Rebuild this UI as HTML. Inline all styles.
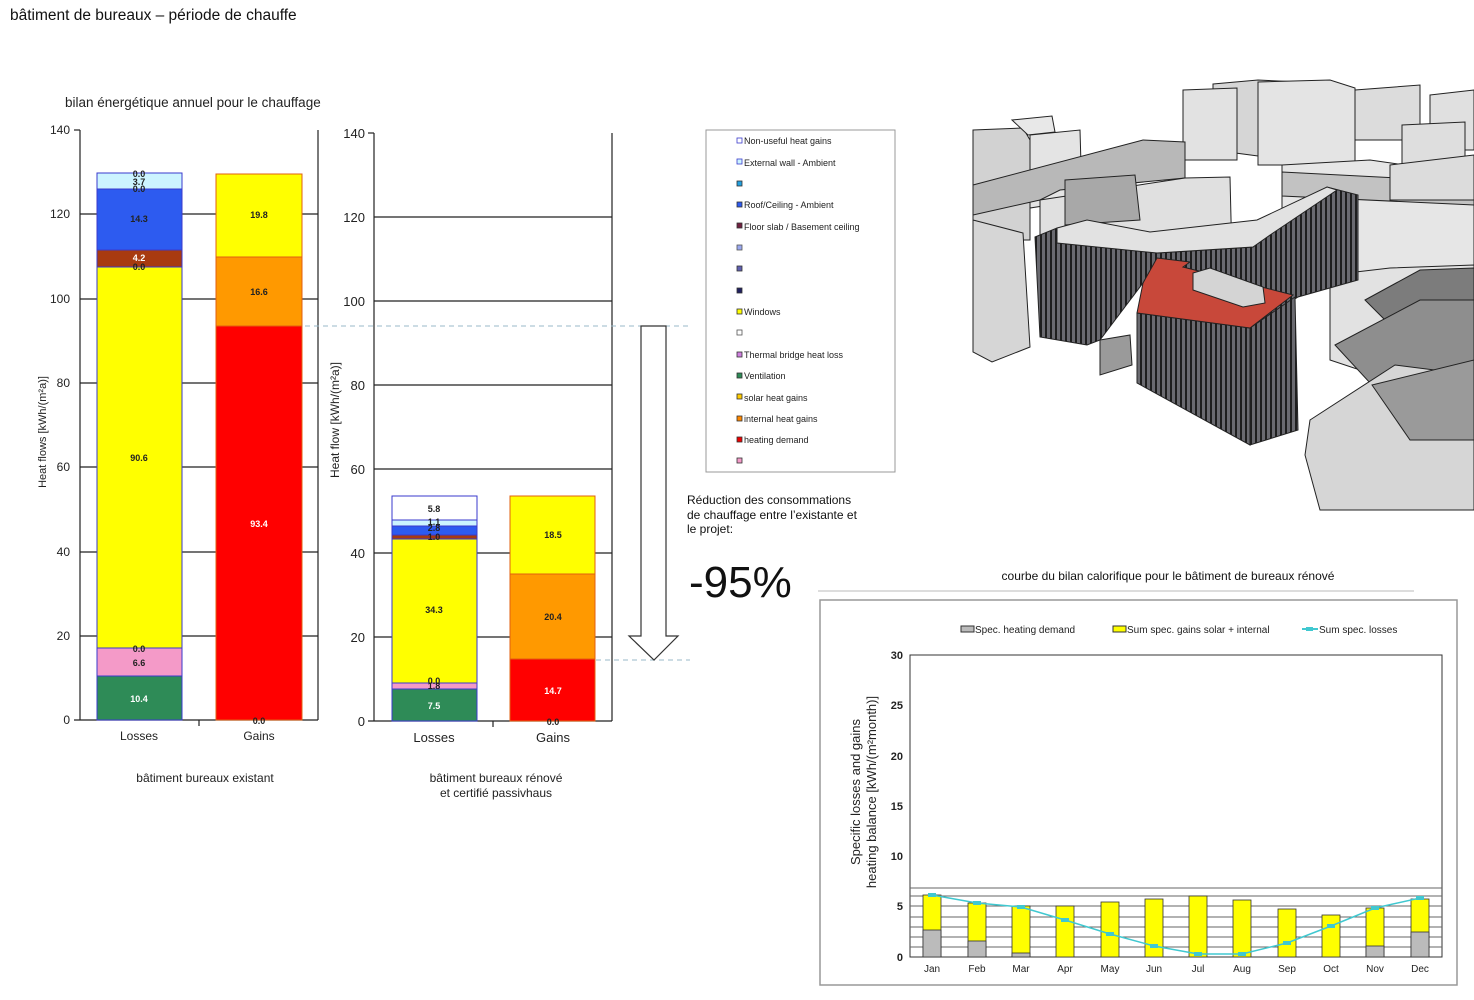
<!DOCTYPE html>
<html><head><meta charset="utf-8"><style>
body{margin:0;background:#fff;width:1474px;height:1000px;overflow:hidden;font-family:"Liberation Sans",sans-serif}
svg{position:absolute;left:0;top:0}
</style></head><body>
<svg width="1474" height="1000" viewBox="0 0 1474 1000" font-family="Liberation Sans, sans-serif">
<defs>
<pattern id="str" width="5" height="10" patternUnits="userSpaceOnUse"><rect width="5" height="10" fill="#6a6a70"/><rect width="2" height="10" fill="#1e1e1e"/></pattern>
</defs>
<text x="10" y="20" font-size="15.5" fill="#111">bâtiment de bureaux – période de chauffe</text>
<text x="65" y="107" font-size="13.5" fill="#222">bilan énergétique annuel pour le chauffage</text>

<!-- LEFT CHART -->
<g stroke="#222" stroke-width="1.2">
<line x1="80" y1="130" x2="80" y2="720"/><line x1="318" y1="130" x2="318" y2="720"/>
<line x1="74" y1="720" x2="318" y2="720"/>
<line x1="80" y1="214" x2="318" y2="214"/><line x1="80" y1="299" x2="318" y2="299"/>
<line x1="80" y1="383" x2="318" y2="383"/><line x1="80" y1="467" x2="318" y2="467"/>
<line x1="80" y1="552" x2="318" y2="552"/><line x1="80" y1="636" x2="318" y2="636"/>
<line x1="74" y1="130" x2="80" y2="130"/>
<line x1="199" y1="720" x2="199" y2="726"/>
</g>
<g font-size="12" fill="#222" text-anchor="end">
<text x="70" y="134">140</text><text x="70" y="218">120</text><text x="70" y="303">100</text><text x="70" y="387">80</text><text x="70" y="471">60</text><text x="70" y="556">40</text><text x="70" y="640">20</text><text x="70" y="724">0</text>
</g>
<text transform="translate(46,432) rotate(-90)" font-size="11" text-anchor="middle" fill="#222">Heat flows [kWh/(m²a)]</text>
<g stroke="#3a3acc" stroke-width="1">
<rect x="97" y="676" width="85" height="44" fill="#2e8b57"/>
<rect x="97" y="648" width="85" height="28" fill="#f49ac8"/>
<rect x="97" y="267" width="85" height="381" fill="#ffff00"/>
<rect x="97" y="250" width="85" height="17" fill="#a83a10"/>
<rect x="97" y="189" width="85" height="61" fill="#2d5bf0"/>
<rect x="97" y="173" width="85" height="16" fill="#ccf4ff"/>
</g>
<g stroke="#e06010" stroke-width="1">
<rect x="216" y="326" width="86" height="394" fill="#ff0000"/>
<rect x="216" y="257" width="86" height="69" fill="#ff9900"/>
<rect x="216" y="174" width="86" height="83" fill="#ffff00"/>
</g>
<g font-size="9" font-weight="bold" text-anchor="middle" fill="#222">
<text x="139" y="702" fill="#fff">10.4</text><text x="139" y="666">6.6</text><text x="139" y="652">0.0</text>
<text x="139" y="461">90.6</text><text x="139" y="270">0.0</text><text x="139" y="261" fill="#fff">4.2</text>
<text x="139" y="222">14.3</text><text x="139" y="192">0.0</text><text x="139" y="185">3.7</text><text x="139" y="177">0.0</text>
<text x="259" y="527" fill="#fff">93.4</text><text x="259" y="295">16.6</text><text x="259" y="218">19.8</text><text x="259" y="724">0.0</text>
</g>
<text x="139" y="740" font-size="12" text-anchor="middle" fill="#222">Losses</text>
<text x="259" y="740" font-size="12" text-anchor="middle" fill="#222">Gains</text>
<text x="205" y="782" font-size="12" text-anchor="middle" fill="#222">bâtiment bureaux existant</text>

<!-- MIDDLE CHART -->
<g stroke="#222" stroke-width="1.2">
<line x1="374" y1="133" x2="374" y2="721"/><line x1="612" y1="133" x2="612" y2="721"/>
<line x1="368" y1="721" x2="612" y2="721"/>
<line x1="374" y1="217" x2="612" y2="217"/><line x1="374" y1="301" x2="612" y2="301"/>
<line x1="374" y1="385" x2="612" y2="385"/><line x1="374" y1="469" x2="612" y2="469"/>
<line x1="374" y1="553" x2="612" y2="553"/><line x1="374" y1="637" x2="612" y2="637"/>
<line x1="368" y1="133" x2="374" y2="133"/><line x1="493" y1="721" x2="493" y2="727"/>
</g>
<g font-size="13" fill="#222" text-anchor="end">
<text x="365" y="138">140</text><text x="365" y="222">120</text><text x="365" y="306">100</text><text x="365" y="390">80</text><text x="365" y="474">60</text><text x="365" y="558">40</text><text x="365" y="642">20</text><text x="365" y="726">0</text>
</g>
<text transform="translate(339,420) rotate(-90)" font-size="12" text-anchor="middle" fill="#222">Heat flow [kWh/(m²a)]</text>
<g stroke="#3a3acc" stroke-width="1">
<rect x="392" y="689" width="85" height="32" fill="#2e8b57"/>
<rect x="392" y="683" width="85" height="6" fill="#f49ac8"/>
<rect x="392" y="539" width="85" height="144" fill="#ffff00"/>
<rect x="392" y="535" width="85" height="4" fill="#a83a10"/>
<rect x="392" y="526" width="85" height="9" fill="#2d5bf0"/>
<rect x="392" y="520" width="85" height="6" fill="#ccf4ff"/>
<rect x="392" y="496" width="85" height="24" fill="#fff"/>
</g>
<g stroke="#e06010" stroke-width="1">
<rect x="510" y="659" width="85" height="62" fill="#ff0000"/>
<rect x="510" y="574" width="85" height="85" fill="#ff9900"/>
<rect x="510" y="496" width="85" height="78" fill="#ffff00"/>
</g>
<g font-size="9" font-weight="bold" text-anchor="middle" fill="#222">
<text x="434" y="709" fill="#fff">7.5</text><text x="434" y="689">1.8</text><text x="434" y="684">0.0</text>
<text x="434" y="613">34.3</text><text x="434" y="540">1.0</text><text x="434" y="531">2.8</text><text x="434" y="525">1.1</text><text x="434" y="512">5.8</text>
<text x="553" y="694" fill="#fff">14.7</text><text x="553" y="620">20.4</text><text x="553" y="538">18.5</text><text x="553" y="725">0.0</text>
</g>
<text x="434" y="742" font-size="13" text-anchor="middle" fill="#222">Losses</text>
<text x="553" y="742" font-size="13" text-anchor="middle" fill="#222">Gains</text>
<text x="496" y="782" font-size="12" text-anchor="middle" fill="#222">bâtiment bureaux rénové</text>
<text x="496" y="797" font-size="12" text-anchor="middle" fill="#222">et certifié passivhaus</text>

<line x1="305" y1="326" x2="690" y2="326" stroke="#9ab8c8" stroke-dasharray="5,4"/>
<line x1="596" y1="660" x2="690" y2="660" stroke="#9ab8c8" stroke-dasharray="5,4"/>
<polygon points="641,326 666,326 666,636 678,636 654,660 629,636 641,636" fill="#fff" stroke="#333" stroke-width="1.2"/>

<!-- LEGEND -->
<rect x="706" y="130" width="189" height="342" fill="#fff" stroke="#999"/>
<g font-size="9" fill="#222" stroke-width="0.8">
<rect x="737" y="138" width="5" height="5" fill="#fff" stroke="#3a3acc"/><text x="744" y="144">Non-useful heat gains</text>
<rect x="737" y="159" width="5" height="5" fill="#ccf4ff" stroke="#3a3acc"/><text x="744" y="166">External wall - Ambient</text>
<rect x="737" y="181" width="5" height="5" fill="#22a0e0" stroke="#333"/>
<rect x="737" y="202" width="5" height="5" fill="#2d5bf0" stroke="#333"/><text x="744" y="208">Roof/Ceiling - Ambient</text>
<rect x="737" y="223" width="5" height="5" fill="#702040" stroke="#333"/><text x="744" y="230">Floor slab / Basement ceiling</text>
<rect x="737" y="245" width="5" height="5" fill="#9aa8f0" stroke="#555"/>
<rect x="737" y="266" width="5" height="5" fill="#6060b0" stroke="#333"/>
<rect x="737" y="288" width="5" height="5" fill="#202060" stroke="#333"/>
<rect x="737" y="309" width="5" height="5" fill="#ffff00" stroke="#333"/><text x="744" y="315">Windows</text>
<rect x="737" y="330" width="5" height="5" fill="#fff" stroke="#555"/>
<rect x="737" y="352" width="5" height="5" fill="#d080e0" stroke="#333"/><text x="744" y="358">Thermal bridge heat loss</text>
<rect x="737" y="373" width="5" height="5" fill="#2e8b57" stroke="#333"/><text x="744" y="379">Ventilation</text>
<rect x="737" y="394" width="5" height="5" fill="#ffcc00" stroke="#333"/><text x="744" y="401">solar heat gains</text>
<rect x="737" y="416" width="5" height="5" fill="#ff8800" stroke="#333"/><text x="744" y="422">internal heat gains</text>
<rect x="737" y="437" width="5" height="5" fill="#ee0000" stroke="#333"/><text x="744" y="443">heating demand</text>
<rect x="737" y="458" width="5" height="5" fill="#f49ac8" stroke="#333"/>
</g>

<g font-size="12" fill="#111">
<text x="687" y="504">Réduction des consommations</text>
<text x="687" y="519">de chauffage entre l’existante et</text>
<text x="687" y="533">le projet:</text>
</g>
<text x="689" y="597" font-size="44" fill="#111">-95%</text>

<!-- BUILDING ILLUSTRATION (approx) -->
<g stroke="#222" stroke-width="1">
<!-- back row -->
<polygon points="1213,84 1258,80 1300,82 1300,148 1258,156 1213,150" fill="#d6d6d6"/>
<polygon points="1183,90 1237,88 1237,160 1183,160" fill="#e2e2e2"/>
<polygon points="1258,82 1330,80 1355,88 1355,165 1258,165" fill="#e4e4e4"/>
<polygon points="1355,90 1420,85 1420,140 1355,140" fill="#dcdcdc"/>
<polygon points="1430,95 1474,90 1474,150 1430,150" fill="#e0e0e0"/>
<polygon points="1402,125 1465,122 1465,190 1402,188" fill="#dedede"/>
<!-- left -->
<polygon points="973,130 1023,128 1030,140 1030,240 973,240" fill="#d2d2d2"/>
<polygon points="1012,120 1052,116 1055,132 1028,135" fill="#e8e8e8"/>
<polygon points="1030,135 1080,130 1082,200 1030,208" fill="#e4e4e4"/>
<polygon points="973,185 1143,140 1185,142 1185,178 1060,190 1040,200 973,215" fill="#b8b8b8"/>
<polygon points="1040,200 1185,178 1230,177 1232,260 1160,268 1040,255" fill="#e0e0e0"/>
<polygon points="1065,180 1135,175 1140,220 1065,225" fill="#a8a8a8"/>
<polygon points="973,220 1023,233 1030,347 992,362 973,352" fill="#d6d6d6"/>
<!-- right back -->
<polygon points="1282,165 1370,160 1474,175 1474,300 1420,300 1360,280 1282,282" fill="#e6e6e6"/>
<polygon points="1282,172 1474,182 1474,205 1282,196" fill="#c2c2c2"/>
<polygon points="1390,165 1474,155 1474,200 1390,200" fill="#dcdcdc"/>
<!-- right lower -->
<polygon points="1330,275 1390,268 1474,265 1474,375 1390,380 1330,360" fill="#e2e2e2"/>
<polygon points="1365,300 1420,270 1474,268 1474,330 1400,335" fill="#7c7c7c"/>
<polygon points="1335,345 1420,300 1474,300 1474,370 1395,410" fill="#8e8e8e"/>
<polygon points="1310,420 1395,365 1474,375 1474,510 1320,510 1305,455" fill="#d6d6d6"/>
<polygon points="1372,385 1474,360 1474,440 1410,440" fill="#9a9a9a"/>
<!-- curved wing -->
<polygon points="1035,237 1057,228 1157,253 1253,247 1327,187 1358,195 1358,280 1298,297 1250,328 1143,283 1100,340 1087,345 1040,337" fill="url(#str)"/>
<polygon points="1057,228 1087,220 1150,232 1257,220 1327,187 1337,190 1273,233 1253,247 1157,253 1057,243" fill="#e2e2e2"/>
<!-- front block -->
<polygon points="1137,313 1250,328 1250,445 1137,383" fill="url(#str)"/>
<polygon points="1250,328 1295,297 1298,430 1250,445" fill="url(#str)"/>
<polygon points="1143,283 1157,258 1190,262 1183,267 1293,295 1250,328 1137,313" fill="#c8483a"/>
<polygon points="1193,273 1210,268 1263,287 1265,303 1243,307 1193,290" fill="#d4d4d4"/>
<polygon points="1100,340 1130,335 1132,365 1100,375" fill="#9a9a9a"/>
</g>

<!-- BOTTOM CHART -->
<text x="1168" y="580" font-size="12" text-anchor="middle" fill="#111">courbe du bilan calorifique pour le bâtiment de bureaux rénové</text>
<line x1="818" y1="591" x2="1414" y2="591" stroke="#bbb"/>
<rect x="820" y="600" width="637" height="385" fill="#fff" stroke="#999" stroke-width="1.5"/>
<g font-size="10" fill="#222">
<rect x="961" y="626" width="13" height="6" fill="#bbb" stroke="#333"/><text x="975" y="633">Spec. heating demand</text>
<rect x="1113" y="626" width="13" height="6" fill="#ffff00" stroke="#333"/><text x="1127" y="633">Sum spec. gains solar + internal</text>
<line x1="1302" y1="629" x2="1318" y2="629" stroke="#40c8d0" stroke-width="2"/><rect x="1306" y="627" width="7" height="4" fill="#40c8d0"/><text x="1319" y="633">Sum spec. losses</text>
</g>
<g stroke="#333" stroke-width="1">
<rect x="910" y="655" width="532" height="302" fill="none"/>
<g stroke="#666"><line x1="910" y1="947" x2="1442" y2="947"/><line x1="910" y1="937" x2="1442" y2="937"/><line x1="910" y1="927" x2="1442" y2="927"/><line x1="910" y1="917" x2="1442" y2="917"/><line x1="910" y1="906" x2="1442" y2="906"/><line x1="910" y1="896" x2="1442" y2="896"/><line x1="910" y1="888" x2="1442" y2="888"/></g>
</g>
<g font-size="11" fill="#222" text-anchor="end" font-weight="bold">
<text x="903" y="659">30</text><text x="903" y="709">25</text><text x="903" y="760">20</text><text x="903" y="810">15</text><text x="903" y="860">10</text><text x="903" y="910">5</text><text x="903" y="961">0</text>
</g>
<text transform="translate(860,792) rotate(-90)" font-size="13" text-anchor="middle" fill="#222">Specific losses and gains</text>
<text transform="translate(876,792) rotate(-90)" font-size="13" text-anchor="middle" fill="#222">heating balance [kWh/(m²month)]</text>
<g stroke="#333" stroke-width="0.8">
<rect x="923" y="895" width="18" height="62" fill="#ffff00"/><rect x="923" y="930" width="18" height="27" fill="#bbb"/>
<rect x="968" y="903" width="18" height="54" fill="#ffff00"/><rect x="968" y="941" width="18" height="16" fill="#bbb"/>
<rect x="1012" y="906" width="18" height="51" fill="#ffff00"/><rect x="1012" y="953" width="18" height="4" fill="#bbb"/>
<rect x="1056" y="906" width="18" height="51" fill="#ffff00"/>
<rect x="1101" y="902" width="18" height="55" fill="#ffff00"/>
<rect x="1145" y="899" width="18" height="58" fill="#ffff00"/>
<rect x="1189" y="896" width="18" height="61" fill="#ffff00"/>
<rect x="1233" y="900" width="18" height="57" fill="#ffff00"/>
<rect x="1278" y="909" width="18" height="48" fill="#ffff00"/>
<rect x="1322" y="915" width="18" height="42" fill="#ffff00"/>
<rect x="1366" y="908" width="18" height="49" fill="#ffff00"/><rect x="1366" y="946" width="18" height="11" fill="#bbb"/>
<rect x="1411" y="899" width="18" height="58" fill="#ffff00"/><rect x="1411" y="932" width="18" height="25" fill="#bbb"/>
</g>
<polyline points="932,895 977,903 1021,907 1065,920 1110,934 1154,946 1198,954 1242,954 1287,943 1331,926 1375,908 1420,898" fill="none" stroke="#40c8d0" stroke-width="1.5"/>
<g fill="#40c8d0">
<rect x="928" y="893" width="8" height="4"/><rect x="973" y="901" width="8" height="4"/><rect x="1017" y="905" width="8" height="4"/><rect x="1061" y="918" width="8" height="4"/><rect x="1106" y="932" width="8" height="4"/><rect x="1150" y="944" width="8" height="4"/><rect x="1194" y="952" width="8" height="4"/><rect x="1238" y="952" width="8" height="4"/><rect x="1283" y="941" width="8" height="4"/><rect x="1327" y="924" width="8" height="4"/><rect x="1371" y="906" width="8" height="4"/><rect x="1416" y="896" width="8" height="4"/>
</g>
<g font-size="10" fill="#222" text-anchor="middle">
<text x="932" y="972">Jan</text><text x="977" y="972">Feb</text><text x="1021" y="972">Mar</text><text x="1065" y="972">Apr</text><text x="1110" y="972">May</text><text x="1154" y="972">Jun</text><text x="1198" y="972">Jul</text><text x="1242" y="972">Aug</text><text x="1287" y="972">Sep</text><text x="1331" y="972">Oct</text><text x="1375" y="972">Nov</text><text x="1420" y="972">Dec</text>
</g>
</svg>
</body></html>
